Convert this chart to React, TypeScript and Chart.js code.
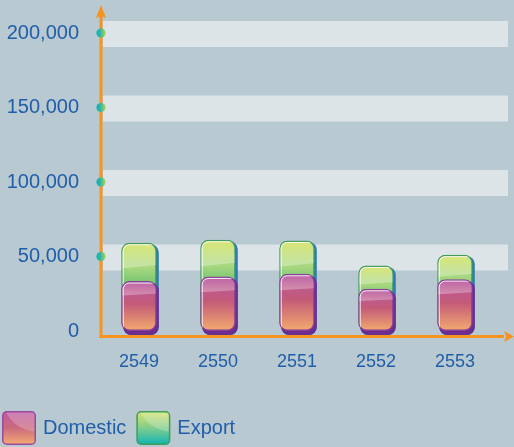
import React, { useEffect, useRef } from 'react';
import { Chart, registerables } from 'chart.js';

Chart.register(...registerables);

const years = ['2549', '2550', '2551', '2552', '2553'];
const domestic = [33500, 36600, 38400, 28300, 34800];
const exportVals = [25700, 24600, 22400, 15700, 16400];
const yTicks = [0, 50000, 100000, 150000, 200000];
const bandTicks = [50000, 100000, 150000, 200000];
const legendLabels = ['Domestic', 'Export'];

const BG = '#b9c9d2';
const BAND = '#dce4e8';
const ORANGE = '#f7931e';
const TEXT = '#1f5ea8';
const FONT = '"Liberation Sans", Arial, Helvetica, sans-serif';
const AXIS_SHIFT = 1.5;

const domesticStops: [number, string][] = [[0, '#b95aa4'], [0.45, '#c35a78'], [1, '#f3ab6e']];
const exportStops: [number, string][] = [[0, '#d9e56c'], [0.28, '#a9d880'], [0.45, '#78c672'], [1, '#16b3ae']];
const legendDomesticStops: [number, string][] = [[0, '#bd5ba3'], [0.5, '#cb6a7e'], [1, '#f4ad70']];
const legendExportStops: [number, string][] = [[0, '#d8e46e'], [0.45, '#8ccf8a'], [1, '#0db4b4']];

function rr(ctx: CanvasRenderingContext2D, x: number, y: number, w: number, h: number, r: number) {
  r = Math.max(0, Math.min(r, w / 2, h / 2));
  ctx.beginPath();
  ctx.moveTo(x + r, y);
  ctx.arcTo(x + w, y, x + w, y + h, r);
  ctx.arcTo(x + w, y + h, x, y + h, r);
  ctx.arcTo(x, y + h, x, y, r);
  ctx.arcTo(x, y, x + w, y, r);
  ctx.closePath();
}

function barGradient(context: any, stops: [number, string][]) {
  const chart = context.chart;
  const y = chart.scales && chart.scales.y;
  if (!y || context.type !== 'data') return stops[0][1];
  const top = y.getPixelForValue(context.raw as number);
  const bottom = y.getPixelForValue(0);
  if (!isFinite(top) || !isFinite(bottom) || top === bottom) return stops[0][1];
  const g = chart.ctx.createLinearGradient(0, top, 0, bottom);
  stops.forEach(([o, c]) => g.addColorStop(o, c));
  return g;
}

const shadowColors = ['#6b2d8e', '#2c7bb6'];

const bgPlugin = {
  id: 'bgPlugin',
  beforeDraw(chart: any) {
    const ctx = chart.ctx as CanvasRenderingContext2D;
    ctx.save();
    ctx.fillStyle = BG;
    ctx.fillRect(0, 0, chart.width, chart.height);
    ctx.restore();
  },
  beforeDatasetsDraw(chart: any) {
    const ctx = chart.ctx as CanvasRenderingContext2D;
    const { scales } = chart;
    const ax = chart.chartArea.left + AXIS_SHIFT;
    ctx.save();
    ctx.fillStyle = BAND;
    bandTicks.forEach((v) => {
      const yc = scales.y.getPixelForValue(v);
      ctx.fillRect(ax + 2, yc - 12, chart.width - 6 - (ax + 2), 26);
    });
    ctx.restore();
  },
  beforeDatasetDraw(chart: any, args: any) {
    const ctx = chart.ctx as CanvasRenderingContext2D;
    const meta = args.meta;
    ctx.save();
    ctx.fillStyle = shadowColors[args.index];
    meta.data.forEach((el: any) => {
      const { x, y, base, width } = el.getProps(['x', 'y', 'base', 'width'], true);
      rr(ctx, x - width / 2 + 2, y + 1.5, width, base - y + 2.5, 8);
      ctx.fill();
    });
    ctx.restore();
  },
  afterDatasetDraw(chart: any, args: any) {
    const ctx = chart.ctx as CanvasRenderingContext2D;
    const meta = args.meta;
    meta.data.forEach((el: any) => {
      const { x, y, base, width } = el.getProps(['x', 'y', 'base', 'width'], true);
      const left = x - width / 2;
      const h = base - y;
      ctx.save();
      rr(ctx, left + 1, y + 1, width - 2, h - 2, 7);
      ctx.clip();
      const dl = h * 0.29;
      const dr = h * 0.25;
      const g = ctx.createLinearGradient(0, y, 0, y + dl);
      g.addColorStop(0, 'rgba(255,255,255,0.04)');
      g.addColorStop(1, 'rgba(255,255,255,0.32)');
      ctx.fillStyle = g;
      ctx.beginPath();
      ctx.moveTo(left, y);
      ctx.lineTo(left + width, y);
      ctx.lineTo(left + width, y + dr);
      ctx.lineTo(left, y + dl);
      ctx.closePath();
      ctx.fill();
      ctx.strokeStyle = 'rgba(255,255,255,0.85)';
      ctx.lineWidth = 1;
      rr(ctx, left + 2, y + 2, width + 6, h + 6, 6);
      ctx.stroke();
      ctx.restore();
    });
  },
  afterDatasetsDraw(chart: any) {
    const ctx = chart.ctx as CanvasRenderingContext2D;
    const { scales } = chart;
    const ax = chart.chartArea.left + AXIS_SHIFT;
    const zeroY = scales.y.getPixelForValue(0);
    const xAxisY = zeroY + 5.5;
    ctx.save();
    ctx.strokeStyle = ORANGE;
    ctx.fillStyle = ORANGE;
    ctx.lineWidth = 3;
    ctx.beginPath();
    ctx.moveTo(ax, xAxisY + 1.5);
    ctx.lineTo(ax, 14);
    ctx.stroke();
    ctx.beginPath();
    ctx.moveTo(ax, 5);
    ctx.lineTo(ax + 5, 18);
    ctx.lineTo(ax, 16);
    ctx.lineTo(ax - 5, 18);
    ctx.closePath();
    ctx.fill();
    ctx.beginPath();
    ctx.moveTo(ax - 1.5, xAxisY);
    ctx.lineTo(chart.width - 10, xAxisY);
    ctx.stroke();
    ctx.beginPath();
    ctx.moveTo(chart.width, xAxisY);
    ctx.lineTo(chart.width - 10, xAxisY - 5.5);
    ctx.lineTo(chart.width - 8, xAxisY);
    ctx.lineTo(chart.width - 10, xAxisY + 5.5);
    ctx.closePath();
    ctx.fill();
    bandTicks.forEach((v) => {
      const yc = scales.y.getPixelForValue(v);
      const g = ctx.createLinearGradient(ax - 4.5, 0, ax + 4.5, 0);
      g.addColorStop(0, '#0aaeb8');
      g.addColorStop(0.45, '#34b8a0');
      g.addColorStop(1, '#b0d256');
      ctx.fillStyle = g;
      ctx.beginPath();
      ctx.arc(ax, yc, 4.6, 0, Math.PI * 2);
      ctx.fill();
    });
    ctx.restore();
  },
  afterDraw(chart: any) {
    const ctx = chart.ctx as CanvasRenderingContext2D;
    const top = chart.height - 36;
    const size = 34;
    const items = [
      { text: legendLabels[0], stops: legendDomesticStops, border: '#9a4a9e' },
      { text: legendLabels[1], stops: legendExportStops, border: '#3f9e58' },
    ];
    let x = 2;
    ctx.save();
    ctx.font = `20px ${FONT}`;
    ctx.textBaseline = 'middle';
    ctx.textAlign = 'left';
    items.forEach((it) => {
      const g = ctx.createLinearGradient(0, top, 0, top + size);
      it.stops.forEach(([o, c]) => g.addColorStop(o, c));
      rr(ctx, x + 0.5, top + 0.5, size - 1, size - 1, 4);
      ctx.fillStyle = g;
      ctx.fill();
      ctx.save();
      ctx.clip();
      ctx.fillStyle = 'rgba(255,255,255,0.22)';
      ctx.beginPath();
      ctx.ellipse(x + size + 4, top - 8, size * 1.05, size * 0.85, 0, 0, Math.PI * 2);
      ctx.fill();
      ctx.restore();
      ctx.strokeStyle = it.border;
      ctx.lineWidth = 1.5;
      rr(ctx, x + 0.75, top + 0.75, size - 1.5, size - 1.5, 4);
      ctx.stroke();
      ctx.fillStyle = TEXT;
      const tx = x + size + 7;
      ctx.fillText(it.text, tx, top + size / 2);
      x = tx + ctx.measureText(it.text).width + 10;
    });
    ctx.restore();
  },
};

export default function App() {
  const ref = useRef<HTMLCanvasElement | null>(null);
  useEffect(() => {
    if (!ref.current) return;
    const totals = domestic.map((d, i) => d + exportVals[i]);
    const chart = new Chart(ref.current, {
      type: 'bar',
      data: {
        labels: years,
        datasets: [
          {
            label: legendLabels[0],
            data: domestic,
            backgroundColor: (c: any) => barGradient(c, domesticStops),
            borderColor: '#8b3c9c',
            borderWidth: 1.5,
            borderRadius: 8,
            borderSkipped: false,
            categoryPercentage: 1,
            barPercentage: 0.45,
          },
          {
            label: legendLabels[1],
            data: totals,
            backgroundColor: (c: any) => barGradient(c, exportStops),
            borderColor: '#3f9a58',
            borderWidth: 1.5,
            borderRadius: 8,
            borderSkipped: false,
            categoryPercentage: 1,
            barPercentage: 0.45,
          },
        ],
      },
      options: {
        responsive: false,
        animation: false,
        devicePixelRatio: 1,
        layout: { padding: { top: 33, right: 19.5, bottom: 66, left: 0 } },
        plugins: { legend: { display: false }, tooltip: { enabled: false } },
        scales: {
          x: {
            stacked: true,
            grid: { display: false, drawTicks: false },
            border: { display: false },
            ticks: { color: TEXT, font: { family: FONT, size: 18 }, padding: 20 },
            afterFit: (s: any) => {
              s.height = 50;
            },
          },
          y: {
            stacked: false,
            min: 0,
            max: 200000,
            grid: { display: false, drawTicks: false },
            border: { display: false },
            ticks: {
              color: TEXT,
              font: { family: FONT, size: 20 },
              padding: 20.5,
              callback: (v: any) => Number(v).toLocaleString('en-US'),
            },
            afterBuildTicks: (s: any) => {
              s.ticks = yTicks.map((v) => ({ value: v }));
            },
            afterFit: (s: any) => {
              s.width = 99.5;
            },
          },
        },
      },
      plugins: [bgPlugin],
    } as any);
    return () => chart.destroy();
  }, []);
  return (
    <div style={{ position: 'fixed', left: 0, top: 0, width: 514, height: 447, background: BG }}>
      <canvas ref={ref} width={514} height={447} style={{ display: 'block', width: 514, height: 447 }} />
    </div>
  );
}
